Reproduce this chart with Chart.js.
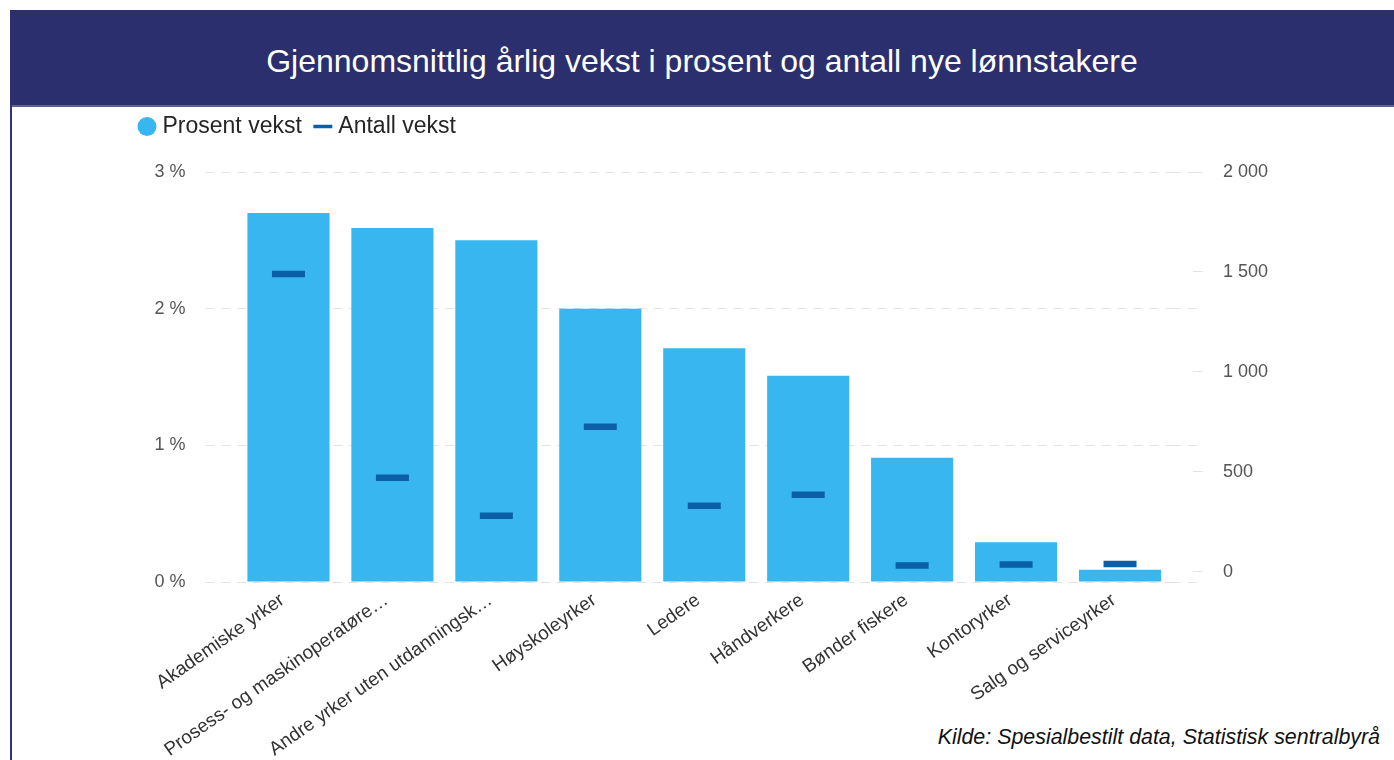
<!DOCTYPE html>
<html>
<head>
<meta charset="utf-8">
<script src="https://cdn.jsdelivr.net/npm/chart.js@4/dist/chart.umd.min.js"></script>
<style>
html,body{margin:0;padding:0;background:#fff;}
body{width:1394px;height:760px;position:relative;overflow:hidden;font-family:Arial,"Liberation Sans",sans-serif;}
#banner{position:absolute;left:10px;top:10px;width:1384px;height:95px;background:#2b2f6d;color:#fff;font-size:32px;box-sizing:border-box;padding-top:8px;display:flex;align-items:center;justify-content:center;}
#bannerline{position:absolute;left:10px;top:105px;width:1384px;height:2px;background:#5d619a;}
#frame{position:absolute;left:10px;top:105px;width:2px;height:655px;background:#2f3482;}
#wrap{position:absolute;left:0;top:0;width:1394px;height:760px;}
#source{position:absolute;right:14px;top:725px;font-style:italic;font-size:21.4px;color:#111;white-space:nowrap;}
</style>
</head>
<body>
<div id="banner">Gjennomsnittlig årlig vekst i prosent og antall nye lønnstakere</div>
<div id="bannerline"></div>
<div id="frame"></div>
<div id="source">Kilde: Spesialbestilt data, Statistisk sentralbyrå</div>
<div id="wrap"><canvas id="c" width="1394" height="760"></canvas></div>
<script>
const categories = ['Akademiske yrker', 'Prosess- og maskinoperatøre…', 'Andre yrker uten utdanningsk…', 'Høyskoleyrker', 'Ledere', 'Håndverkere', 'Bønder fiskere', 'Kontoryrker', 'Salg og serviceyrker'];
const prosentVekst = [2.70, 2.59, 2.50, 2.00, 1.71, 1.51, 0.91, 0.29, 0.09];
const antallVekst = [1490, 470, 280, 725, 330, 385, 30, 35, 38];
const leftTicks = [0, 1, 2, 3];
const rightTicks = [0, 500, 1000, 1500, 2000];
const seriesNames = ['Prosent vekst', 'Antall vekst'];

const BAR = '#37b6f0';
const MARK = '#0a5fa6';
const GRID = '#e3e3e3';
const FAMILY = 'Arial, "Liberation Sans", sans-serif';
const AXIS_FONT = {family: FAMILY, size: 18};

function fmtThousands(v) {
  return String(v).replace(/\B(?=(\d{3})+(?!\d))/g, ' ');
}

const legendSpacer = {
  id: 'legendSpacer',
  beforeInit(chart) {
    const lg = chart.legend;
    const orig = lg.fit;
    lg.fit = function () { orig.call(this); this.height += 24; };
  }
};

new Chart(document.getElementById('c'), {
  type: 'bar',
  data: {
    labels: categories,
    datasets: [
      {
        label: seriesNames[0],
        data: prosentVekst,
        backgroundColor: BAR,
        borderWidth: 0,
        pointStyle: 'circle',
        yAxisID: 'y',
        order: 2,
        categoryPercentage: 1,
        barPercentage: 0.79
      },
      {
        type: 'line',
        label: seriesNames[1],
        data: antallVekst,
        yAxisID: 'y1',
        showLine: false,
        order: 1,
        borderColor: MARK,
        backgroundColor: MARK,
        pointStyle: 'line',
        pointRadius: 16.5,
        pointHoverRadius: 16.5,
        pointBorderWidth: 6.5,
        pointHoverBorderWidth: 6.5,
        pointBorderColor: MARK,
        pointBackgroundColor: MARK
      }
    ]
  },
  options: {
    responsive: false,
    animation: false,
    devicePixelRatio: 1,
    layout: {padding: {top: 98, left: 126, right: 102, bottom: 0}},
    plugins: {
      tooltip: {enabled: false},
      title: {display: false},
      legend: {
        display: true,
        position: 'top',
        align: 'start',
        labels: {
          usePointStyle: true,
          boxWidth: 8,
          boxHeight: 13.4,
          padding: 17,
          color: '#252525',
          font: {family: FAMILY, size: 23},
          sort: (a, b) => a.datasetIndex - b.datasetIndex,
          generateLabels(chart) {
            const items = Chart.defaults.plugins.legend.labels.generateLabels(chart);
            items.forEach(it => { if (it.datasetIndex === 1) it.lineWidth = 3.5; });
            return items;
          }
        }
      }
    },
    scales: {
      x: {
        offset: true,
        grid: {display: false},
        border: {display: false},
        ticks: {autoSkip: false, minRotation: 35, maxRotation: 35, padding: -1, labelOffset: -6, color: '#333', font: {family: FAMILY, size: 19}},
        afterFit(s) { s.height = 178; }
      },
      y: {
        position: 'left',
        min: 0,
        max: 3,
        afterBuildTicks(s) { s.ticks = leftTicks.map(v => ({value: v})); },
        ticks: {padding: 20, color: '#555', font: AXIS_FONT, callback: v => v + ' %'},
        grid: {color: GRID, lineWidth: 1, tickLength: 31, tickColor: GRID, tickBorderDash: [9, 7]},
        border: {display: false, dash: [9, 7]},
        afterFit(s) { s.width = 110.5; }
      },
      yR: {
        position: 'right',
        weight: 0,
        min: 0,
        max: 3,
        afterBuildTicks(s) { s.ticks = leftTicks.map(v => ({value: v})); },
        ticks: {display: false},
        grid: {drawOnChartArea: false, color: GRID, tickColor: GRID, tickLength: 31, tickBorderDash: [9, 7]},
        border: {display: false},
        afterFit(s) { s.width = 0; }
      },
      y1: {
        position: 'right',
        weight: 1,
        min: -52,
        max: 2000,
        afterBuildTicks(s) { s.ticks = rightTicks.map(v => ({value: v})); },
        ticks: {padding: 20, color: '#555', font: AXIS_FONT, callback: v => fmtThousands(v)},
        grid: {drawOnChartArea: false, color: GRID, tickColor: GRID, tickLength: 31, tickBorderDash: [0, 21, 10, 0]},
        border: {display: false},
        afterFit(s) { s.width = 120; }
      }
    }
  },
  plugins: [legendSpacer]
});
</script>
</body>
</html>
